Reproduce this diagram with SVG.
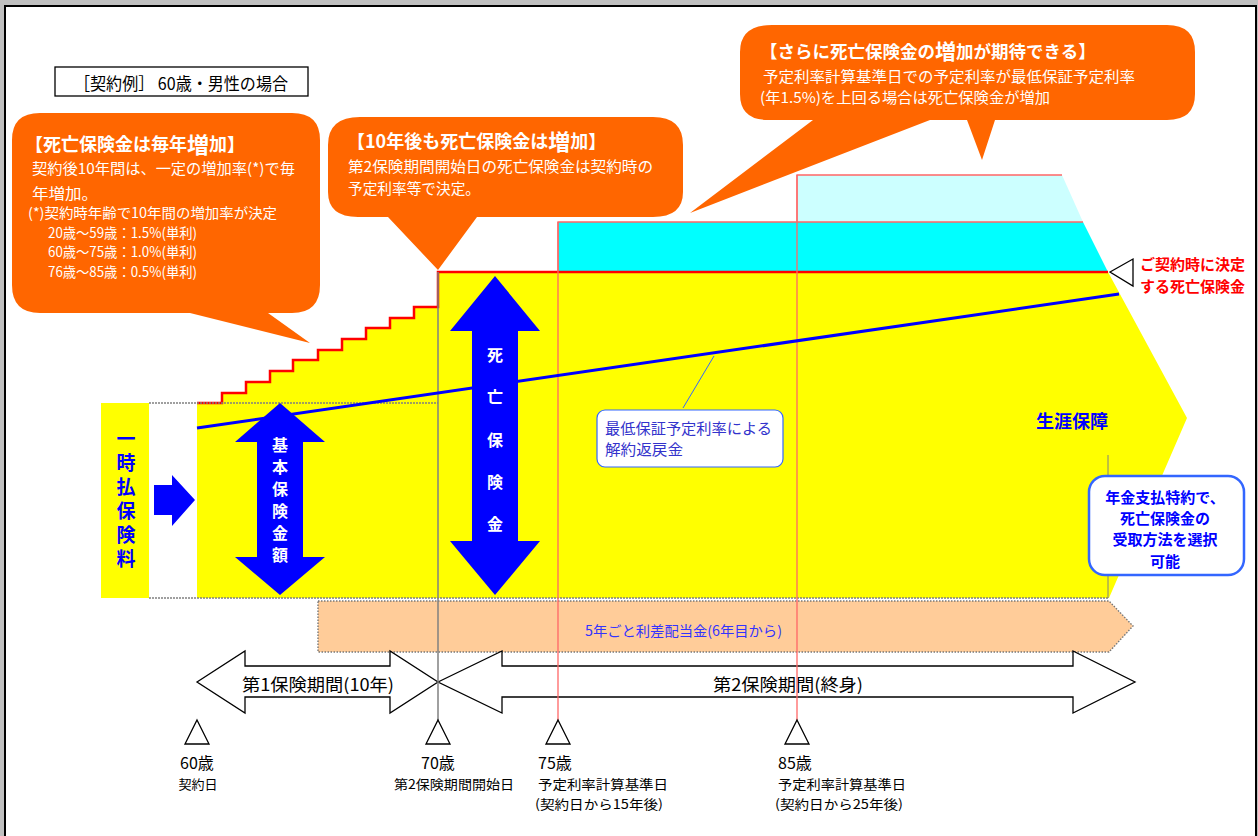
<svg xmlns="http://www.w3.org/2000/svg" width="1258" height="836" viewBox="0 0 1258 836">
<defs>
<style>
text{font-family:'Noto Sans CJK JP','Noto Sans',sans-serif;}
.wt{fill:#ffffff;}
.wb{fill:#ffffff;font-weight:bold;}
.orange{fill:#FF6600;}
.blk{fill:#000000;}
.bb{fill:#0000FF;font-weight:bold;}
.c{text-anchor:middle;dominant-baseline:central;}
.m{dominant-baseline:central;}
.outline{fill:#ffffff;stroke:#000000;stroke-width:1.3;}
.gray{stroke:#808080;stroke-width:1.5;fill:none;}
.dot{stroke:#808080;stroke-width:1.6;stroke-dasharray:2 1;fill:none;}
.pink{stroke:#FF6666;stroke-width:1.3;fill:none;}
.bluebox{fill:#ffffff;stroke:#3366FF;}
</style>
</defs>
<rect x="0" y="0" width="1258" height="836" fill="#ffffff"/>
<g id="frame">
<rect x="0" y="0" width="1258" height="5" fill="#c0c0c0"/>
<rect x="0" y="0" width="4" height="836" fill="#c0c0c0"/>
<rect x="1257" y="0" width="1" height="836" fill="#c0c0c0"/>
<path d="M5,836 L5,6 L1256,6 L1256,836" fill="none" stroke="#000" stroke-width="2"/>
</g>

<g id="header">
<rect x="55" y="67" width="253" height="29" fill="#fff" stroke="#000" stroke-width="1.3"/>
<text class="m blk" x="74" y="82" font-size="17" textLength="214" lengthAdjust="spacingAndGlyphs">［契約例］ 60歳・男性の場合</text>
</g>

<g id="light-cyan">
<polygon points="797,175 1062,175 1083,222 797,222" fill="#CCFFFF"/>
<polyline points="797,222 797,175 1062,175" class="pink"/>
</g>
<g id="cyan">
<polygon points="558,222 1083,222 1108,272 558,272" fill="#00FFFF"/>
<polyline points="558,272 558,222 1083,222" class="pink"/>
</g>

<g id="premium">
<rect x="101" y="403" width="48" height="195" fill="#FFFF00"/>
<text x="126" y="429" writing-mode="vertical-rl" font-size="19" letter-spacing="5" fill="#0000FF" font-weight="bold">一時払保険料</text>
<path d="M154,485 L172,485 L172,475 L195,500 L172,526 L172,515 L154,515 Z" fill="#0000FF"/>
</g>

<g id="coverage">
<polygon points="197,598 197,403 222,403 222,393 246,393 246,382 270,382 270,371 293,371 293,360 318,360 318,350 342,350 342,339 366,339 366,328 390,328 390,318 414,318 414,307 438,307 438,272 1108,272 1187,418 1109,598" fill="#FFFF00"/>
<polyline points="197,403 222,403 222,393 246,393 246,382 270,382 270,371 293,371 293,360 318,360 318,350 342,350 342,339 366,339 366,328 390,328 390,318 414,318 414,307 438,307 438,272 1108,272" fill="none" stroke="#FF0000" stroke-width="2.5"/>
<line x1="149" y1="403" x2="438" y2="403" class="dot"/>
<line x1="149" y1="598" x2="1109" y2="598" class="dot"/>
<line x1="1108" y1="455" x2="1108" y2="598" stroke="#808080" stroke-width="1"/>
<text class="c bb" x="1072" y="420" font-size="18">生涯保障</text>
</g>

<g id="dividend">
<path d="M318,601 L1109,601 L1133,626 L1109,652 L318,652 Z" fill="#FFCC99" stroke="#777" stroke-width="1.4" stroke-dasharray="1.5 1.5"/>
<text class="m" x="585" y="630" font-size="14" fill="#3333FF" textLength="197" lengthAdjust="spacingAndGlyphs">5年ごと利差配当金(6年目から)</text>
</g>

<g id="period1">
<path d="M197,682 L245,651 L245,666 L390,666 L390,651 L438,682 L390,713 L390,697 L245,697 L245,713 Z" class="outline"/>
<text class="c blk" x="318" y="683" font-size="17" textLength="152" lengthAdjust="spacingAndGlyphs">第1保険期間(10年)</text>
</g>
<g id="period2">
<path d="M438,682 L502,651 L502,666 L1073,666 L1073,651 L1135,682 L1073,713 L1073,697 L502,697 L502,713 Z" class="outline"/>
<text class="c blk" x="788" y="683" font-size="17" textLength="150" lengthAdjust="spacingAndGlyphs">第2保険期間(終身)</text>
</g>

<g id="connectors">
<line x1="438" y1="272" x2="438" y2="720" class="gray"/>
<line x1="558" y1="222" x2="558" y2="720" class="pink"/>
<line x1="797" y1="175" x2="797" y2="720" class="pink"/>
<line x1="197" y1="428" x2="1119" y2="294" stroke="#0000FF" stroke-width="3"/>
<line x1="683" y1="408" x2="714" y2="356" stroke="#3366FF" stroke-width="1"/>
</g>

<g id="basic-amount">
<path d="M280,403 L325,442 L303,442 L303,557 L325,557 L280,595 L235,557 L257,557 L257,442 L235,442 Z" fill="#0000FF"/>
<text class="c wb" font-size="16"><tspan x="280" y="444">基</tspan><tspan x="280" y="466">本</tspan><tspan x="280" y="488">保</tspan><tspan x="280" y="510">険</tspan><tspan x="280" y="532">金</tspan><tspan x="280" y="554">額</tspan></text>
</g>

<g id="death-benefit">
<path d="M495,276 L540,331 L518,331 L518,541 L540,541 L495,595 L450,541 L472,541 L472,331 L450,331 Z" fill="#0000FF"/>
<text class="c wb" font-size="16"><tspan x="495" y="354">死</tspan><tspan x="495" y="396">亡</tspan><tspan x="495" y="439">保</tspan><tspan x="495" y="481">険</tspan><tspan x="495" y="523">金</tspan></text>
</g>

<g id="surrender-label">
<rect x="597" y="410" width="186" height="57" rx="8" class="bluebox" stroke-width="1.2"/>
<text class="m" x="605" y="427" font-size="15" fill="#3333CC" textLength="167" lengthAdjust="spacingAndGlyphs">最低保証予定利率による</text>
<text class="m" x="605" y="448" font-size="15" fill="#3333CC" textLength="78" lengthAdjust="spacingAndGlyphs">解約返戻金</text>
</g>

<g id="decided-label">
<polygon points="1110,272 1133,259 1133,286" class="outline"/>
<text class="m" x="1140" y="263" font-size="15" font-weight="bold" fill="#FF0000" textLength="105" lengthAdjust="spacingAndGlyphs">ご契約時に決定</text>
<text class="m" x="1140" y="285" font-size="15" font-weight="bold" fill="#FF0000" textLength="105" lengthAdjust="spacingAndGlyphs">する死亡保険金</text>
</g>

<g id="annuity-label">
<rect x="1089" y="476" width="155" height="99" rx="16" class="bluebox" stroke-width="2.5"/>
<text class="c bb" x="1165" y="496" font-size="15">年金支払特約で、</text>
<text class="c bb" x="1165" y="517" font-size="15">死亡保険金の</text>
<text class="c bb" x="1165" y="538" font-size="15">受取方法を選択</text>
<text class="c bb" x="1165" y="560" font-size="15">可能</text>
</g>

<g id="callout1">
<path d="M40,113 L292,113 Q320,113 320,140 L320,285 Q320,313 292,313 L268,313 L310,343 L190,313 L40,313 Q12,313 12,285 L12,140 Q12,113 40,113 Z" class="orange"/>
<text class="m wb" x="25" y="143" font-size="18">【死亡保険金は毎年<tspan font-size="22">増</tspan>加】</text>
<text class="m wt" x="32" y="167" font-size="15" textLength="263" lengthAdjust="spacingAndGlyphs">契約後10年間は、一定の増加率(*)で毎</text>
<text class="m wt" x="32" y="192" font-size="15" textLength="66" lengthAdjust="spacingAndGlyphs">年増加。</text>
<text class="m wt" x="28" y="212" font-size="14" textLength="249" lengthAdjust="spacingAndGlyphs">(*)契約時年齢で10年間の増加率が決定</text>
<text class="m wt" x="48" y="232" font-size="14" textLength="149" lengthAdjust="spacingAndGlyphs">20歳～59歳：1.5%(単利)</text>
<text class="m wt" x="48" y="251" font-size="14" textLength="149" lengthAdjust="spacingAndGlyphs">60歳～75歳：1.0%(単利)</text>
<text class="m wt" x="48" y="271" font-size="14" textLength="149" lengthAdjust="spacingAndGlyphs">76歳～85歳：0.5%(単利)</text>
</g>

<g id="callout2">
<path d="M360,117 L653,117 Q683,117 683,145 L683,192 Q683,217 653,217 L477,217 L438,270 L388,217 L358,217 Q328,217 328,192 L328,145 Q328,117 360,117 Z" class="orange"/>
<text class="m wb" x="347" y="140" font-size="18">【10年後も死亡保険金は<tspan font-size="22">増</tspan>加】</text>
<text class="m wt" x="348" y="165" font-size="15" textLength="305" lengthAdjust="spacingAndGlyphs">第2保険期間開始日の死亡保険金は契約時の</text>
<text class="m wt" x="348" y="187" font-size="15" textLength="132" lengthAdjust="spacingAndGlyphs">予定利率等で決定。</text>
</g>

<g id="callout3">
<path d="M772,25 L1167,25 Q1195,25 1195,52 L1195,94 Q1195,120 1167,120 L995,120 L982,160 L967,120 L930,120 L690,213 L813,120 L768,120 Q740,120 740,94 L740,52 Q740,25 772,25 Z" class="orange"/>
<text class="m wb" x="760" y="50" font-size="17.5">【さらに死亡保険金の<tspan font-size="21">増</tspan>加が期待できる】</text>
<text class="m wt" x="763" y="75" font-size="15" textLength="372" lengthAdjust="spacingAndGlyphs">予定利率計算基準日での予定利率が最低保証予定利率</text>
<text class="m wt" x="760" y="96" font-size="15" textLength="290" lengthAdjust="spacingAndGlyphs">(年1.5%)を上回る場合は死亡保険金が増加</text>
</g>

<g id="age60">
<polygon points="197,720 209,744 185,744" class="outline"/>
<text class="c blk" x="197" y="762" font-size="16">60歳</text>
<text class="c blk" x="198" y="783" font-size="13">契約日</text>
</g>
<g id="age70">
<polygon points="438,720 450,744 426,744" class="outline"/>
<text class="c blk" x="438" y="762" font-size="16">70歳</text>
<text class="c blk" x="454" y="783" font-size="13" textLength="120" lengthAdjust="spacingAndGlyphs">第2保険期間開始日</text>
</g>
<g id="age75">
<polygon points="558,720 570,744 546,744" class="outline"/>
<text class="m blk" x="538" y="762" font-size="16">75歳</text>
<text class="m blk" x="538" y="783" font-size="13" textLength="130" lengthAdjust="spacingAndGlyphs">予定利率計算基準日</text>
<text class="m blk" x="535" y="803" font-size="13" textLength="128" lengthAdjust="spacingAndGlyphs">(契約日から15年後)</text>
</g>
<g id="age85">
<polygon points="797,720 809,744 785,744" class="outline"/>
<text class="m blk" x="778" y="762" font-size="16">85歳</text>
<text class="m blk" x="778" y="783" font-size="13" textLength="128" lengthAdjust="spacingAndGlyphs">予定利率計算基準日</text>
<text class="m blk" x="775" y="803" font-size="13" textLength="128" lengthAdjust="spacingAndGlyphs">(契約日から25年後)</text>
</g>
</svg>
